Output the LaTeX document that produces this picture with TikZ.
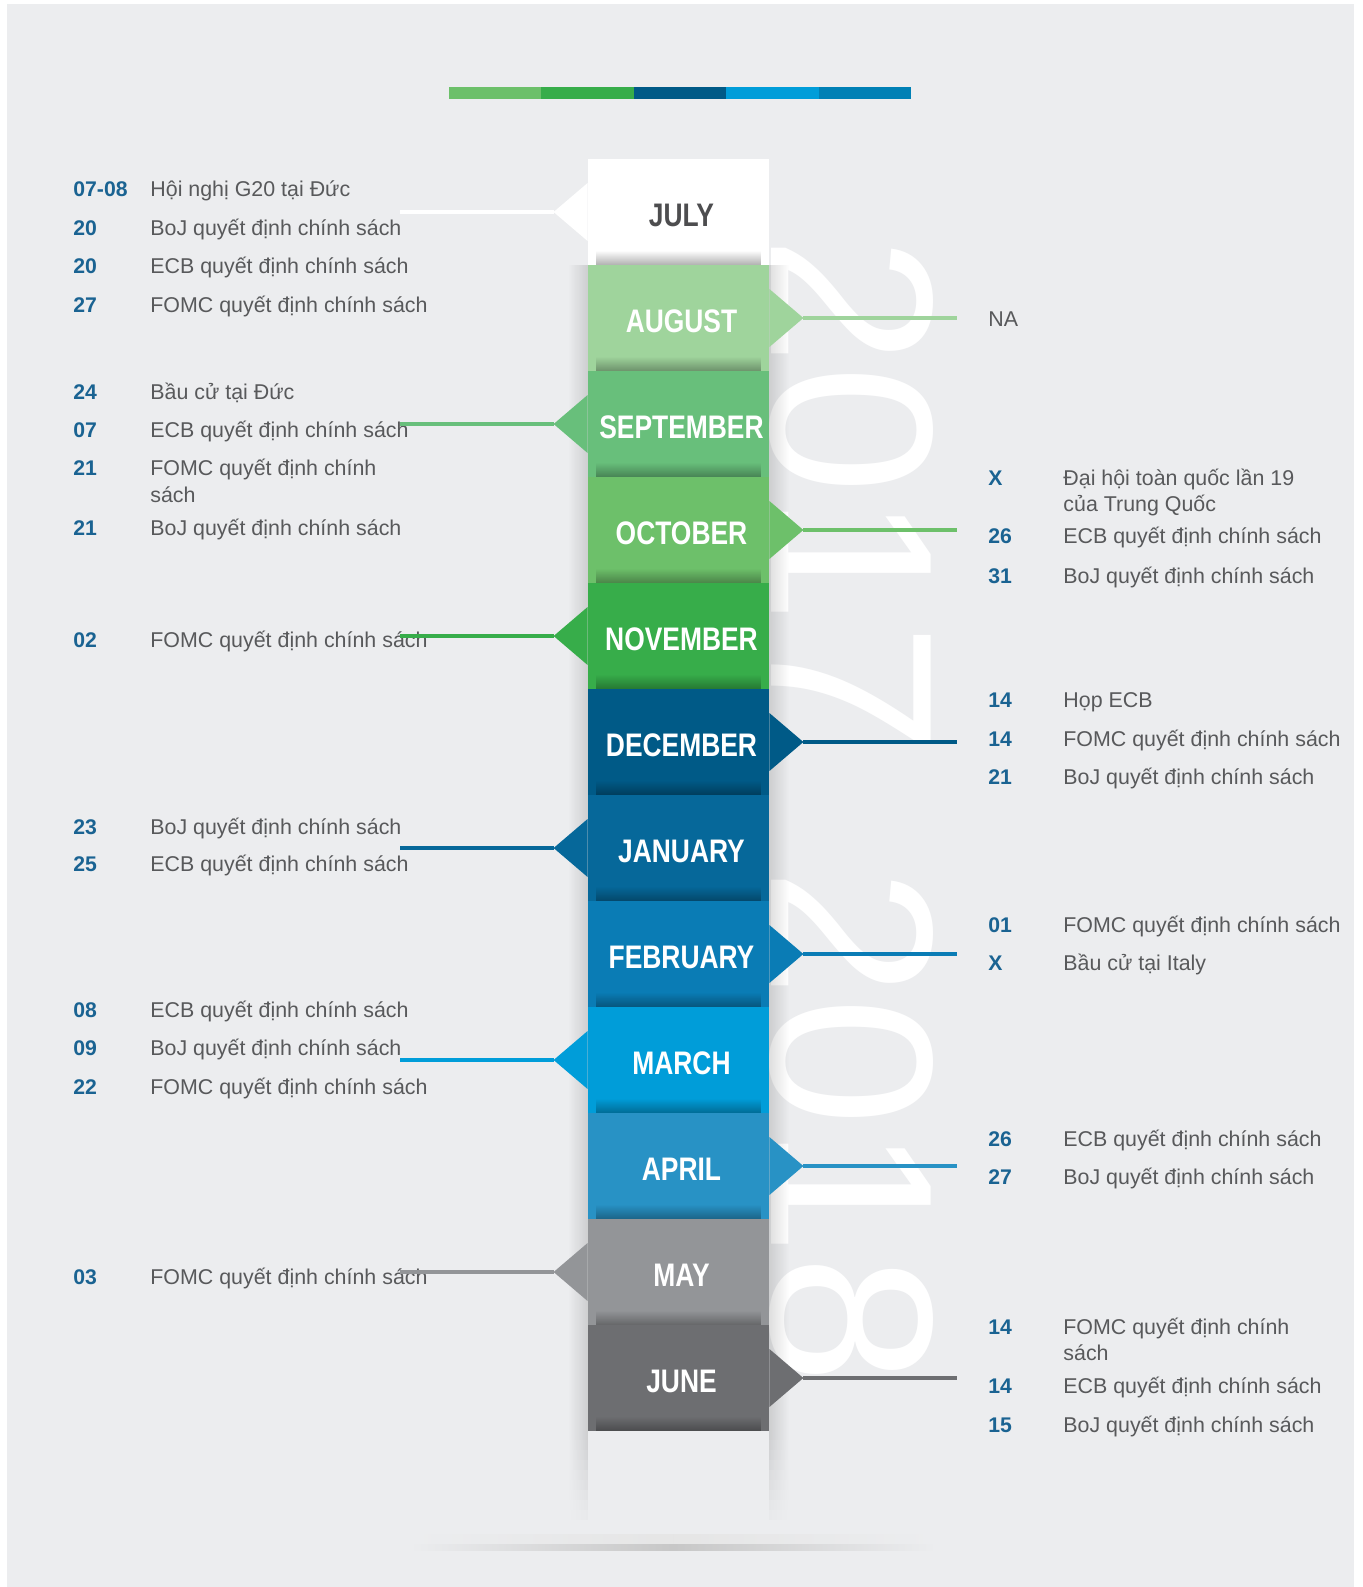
\documentclass[tikz,border=0pt]{standalone}
\usepackage{fontspec}
\setmainfont{Liberation Sans}
\newfontfamily\monthfont[FakeStretch=0.81]{Liberation Sans}
\usetikzlibrary{positioning}
\usetikzlibrary{fadings}

\definecolor{pagegrey}{HTML}{ECEDEF}
\definecolor{textgrey}{HTML}{58595B}
\definecolor{daycol}{HTML}{1A6392}
\definecolor{julytext}{HTML}{4D4D4F}
\definecolor{jul-c}{HTML}{FFFFFF}
\definecolor{aug-c}{HTML}{9FD49C}
\definecolor{sep-c}{HTML}{68BF7B}
\definecolor{oct-c}{HTML}{6DC06A}
\definecolor{nov-c}{HTML}{37AD4A}
\definecolor{dec-c}{HTML}{005A87}
\definecolor{jan-c}{HTML}{06689A}
\definecolor{feb-c}{HTML}{0A7CB5}
\definecolor{mar-c}{HTML}{009DD9}
\definecolor{apr-c}{HTML}{2892C5}
\definecolor{may-c}{HTML}{939598}
\definecolor{jun-c}{HTML}{6D6E71}
\definecolor{bar-a}{HTML}{6CC06A}
\definecolor{bar-b}{HTML}{37AD4A}
\definecolor{bar-c}{HTML}{005A87}
\definecolor{bar-d}{HTML}{009DD9}
\definecolor{bar-e}{HTML}{0080B5}

\tikzset{monthbox/.style={shape=rectangle, minimum width=90.5pt, minimum height=53pt, inner sep=0pt},
  monthlab/.style={inner sep=0pt, font=\monthfont\bfseries\fontsize{16.3}{16}\selectfont},
  tick/.style={line width=2pt},
  day/.style={anchor=base west, inner sep=0pt, text=daycol, font=\bfseries\fontsize{10.6}{12}\selectfont},
  event/.style={anchor=base west, inner sep=0pt, text=textgrey, font=\fontsize{10.7}{12}\selectfont},
  yearmark/.style={anchor=base west, inner sep=0pt, rotate=-90, text=white, font=\fontsize{116}{116}\selectfont}}

\begin{document}
\begin{tikzpicture}[x=0.5pt, y=-0.5pt]
    \useasboundingbox (0,0) rectangle (1362,1587);
    \fill[white] (0,0) rectangle (1362,1587);
    \fill[pagegrey] (7,4) rectangle (1354,1587);

    % colour strip on top
    \foreach \c [count=\j] in {bar-a, bar-b, bar-c, bar-d, bar-e}
      \fill[\c] ({449+92.4*(\j-1)}, 87) rectangle ({449+92.4*\j}, 99);

    % years behind the column
    \node[yearmark] (y2017) at (771,236) {2017};
    \node[yearmark] (y2018) at (771,868) {2018};

    % soft shadows along the column and on the floor
    \fill[black, opacity=0.13, path fading=west] (568,265) rectangle (588,1430);
    \fill[black, opacity=0.13, path fading=east] (769,265) rectangle (789,1430);
    \foreach \k in {0,...,8} {
      \pgfmathsetmacro\op{0.13*(1-\k/9)}
      \fill[black, opacity=\op, path fading=west] (568,1430+10*\k) rectangle (588,1440+10*\k);
      \fill[black, opacity=\op, path fading=east] (769,1430+10*\k) rectangle (789,1440+10*\k);
    }
    \shade[left color=pagegrey, right color=pagegrey, middle color=black!10] (410,1534) rectangle (936,1544);
    \shade[left color=pagegrey, right color=pagegrey, middle color=black!22] (410,1544) rectangle (936,1550);

    % events, left side
    \foreach \y/\d/\t [count=\i] in {196/07-08/Hội nghị G20 tại Đức, 235/20/BoJ quyết định chính sách,
      273/20/ECB quyết định chính sách, 312/27/FOMC quyết định chính sách, 399/24/Bầu cử tại Đức,
      437/07/ECB quyết định chính sách, 475/21/FOMC quyết định chính, 502//sách,
      535/21/BoJ quyết định chính sách, 647/02/FOMC quyết định chính sách,
      834/23/BoJ quyết định chính sách, 871/25/ECB quyết định chính sách,
      1017/08/ECB quyết định chính sách, 1055/09/BoJ quyết định chính sách,
      1094/22/FOMC quyết định chính sách, 1284/03/FOMC quyết định chính sách} {
      \node[day] (ld\i) at (73,\y) {\d};
      \node[event] (le\i) at (150,\y) {\t};
    }

    % events, right side
    \node[event] (na) at (988,326) {NA};
    \foreach \y/\d/\t [count=\i] in {485/X/Đại hội toàn quốc lần 19, 511//của Trung Quốc,
      543/26/ECB quyết định chính sách, 583/31/BoJ quyết định chính sách, 707/14/Họp ECB,
      746/14/FOMC quyết định chính sách, 784/21/BoJ quyết định chính sách,
      932/01/FOMC quyết định chính sách, 970/X/Bầu cử tại Italy,
      1146/26/ECB quyết định chính sách, 1184/27/BoJ quyết định chính sách,
      1334/14/FOMC quyết định chính, 1360//sách, 1393/14/ECB quyết định chính sách,
      1432/15/BoJ quyết định chính sách} {
      \node[day] (rd\i) at (988,\y) {\d};
      \node[event] (re\i) at (1063,\y) {\t};
    }

    % month blocks with their pointers
    \foreach \name/\lab/\tc [count=\i] in {jul/JULY/julytext, aug/AUGUST/white, sep/SEPTEMBER/white,
      oct/OCTOBER/white, nov/NOVEMBER/white, dec/DECEMBER/white, jan/JANUARY/white,
      feb/FEBRUARY/white, mar/MARCH/white, apr/APRIL/white, may/MAY/white, jun/JUNE/white} {
      \node[monthbox, fill=\name-c] (\name) at (678.5,{106+106*\i}) {};
      \node[monthlab, text=\tc] (\name-lab) at ([xshift=1.5pt, yshift=-1.5pt]\name.center) {\lab};
      \fill[black, opacity=0.32, path fading=north]
        ([xshift=4pt]\name.south west) rectangle ([xshift=-4pt, yshift=7.5pt]\name.south east);
      \ifodd\i
        \fill[\name-c] (\name.west) +(0,-29) -- +(-34,0) -- +(0,29) -- cycle;
        \path (\name.west) ++(-188,0) coordinate (\name-end);
        \draw[tick, \name-c] (\name.west) ++(-34,0) -- (\name-end);
      \else
        \fill[\name-c] (\name.east) +(0,-29) -- +(34,0) -- +(0,29) -- cycle;
        \path (\name.east) ++(188,0) coordinate (\name-end);
        \draw[tick, \name-c] (\name.east) ++(34,0) -- (\name-end);
      \fi
    }
\end{tikzpicture}
\end{document}
